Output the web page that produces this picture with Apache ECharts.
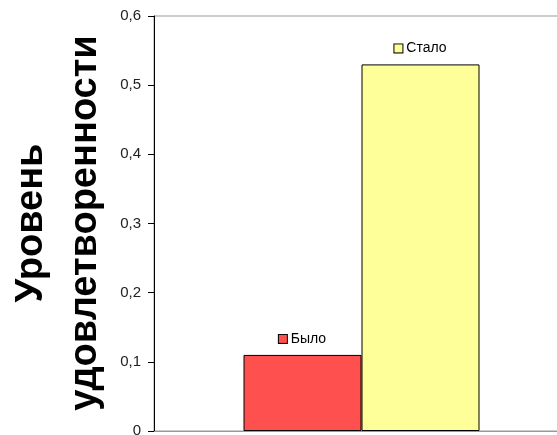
<!DOCTYPE html>
<html><head><meta charset="utf-8">
<script src="https://cdn.jsdelivr.net/npm/echarts@6/dist/echarts.min.js"></script>
<style>html,body{margin:0;padding:0;background:#fff}#c{width:557px;height:435px}</style>
</head><body><div id="c"></div>
<script>
const categories = [''];
const seriesNames = ['Было', 'Стало'];
const valuesBefore = [0.11];
const valuesAfter = [0.53];
const seriesColors = ['#FF5050', '#FFFF99'];
const yTicks = [0, 0.1, 0.2, 0.3, 0.4, 0.5, 0.6];
const yTitle = 'Уровень\nудовлетворенности';

const chart = echarts.init(document.getElementById('c'), null, {renderer: 'canvas'});
function mkLabel(i) {
  return {
    show: true, position: 'top', distance: 9,
    formatter: () => '{m|}{t| ' + seriesNames[i] + '}',
    rich: {
      m: {width: 8, height: 8, backgroundColor: seriesColors[i], borderColor: '#000', borderWidth: 1},
      t: {fontFamily: 'Liberation Sans, Arial', fontSize: 14, color: '#000'}
    }
  };
}
chart.setOption({
  animation: false,
  grid: {left: 154, top: 16, bottom: 4, right: -12, show: true, borderColor: '#999', borderWidth: 1,
         containLabel: false, outerBoundsMode: 'none'},
  graphic: [{
    type: 'text', x: 59, y: 223, rotation: Math.PI / 2,
    style: {text: yTitle, fontFamily: 'Liberation Sans, Arial', fontSize: 38, fontWeight: 'bold', fill: '#000',
            lineHeight: 54, align: 'center', verticalAlign: 'middle'}
  }],
  xAxis: {type: 'category', data: categories, axisLine: {lineStyle: {color: '#999'}}, axisTick: {show: false}, axisLabel: {show: false}},
  yAxis: {
    type: 'value', min: 0, max: 0.6, interval: 0.1,
    axisLine: {show: true, lineStyle: {color: '#000'}},
    axisTick: {show: true, length: 6, lineStyle: {color: '#000'}},
    splitLine: {show: false},
    axisLabel: {fontFamily: 'Liberation Sans, Arial', fontSize: 15, color: '#222', margin: 13,
      formatter: v => { const t = yTicks.find(x => Math.abs(x - v) < 1e-9); return (t === 0 ? '0' : String(+v.toFixed(1)).replace('.', ',')); }}
  },
  series: [
    {name: seriesNames[0], type: 'bar', data: valuesBefore, barWidth: 118, barGap: '0%',
     itemStyle: {color: seriesColors[0], borderColor: '#000', borderWidth: 1}, label: mkLabel(0)},
    {name: seriesNames[1], type: 'bar', data: valuesAfter, barWidth: 118, barGap: '0%',
     itemStyle: {color: seriesColors[1], borderColor: '#000', borderWidth: 1}, label: mkLabel(1)}
  ]
});
</script></body></html>
